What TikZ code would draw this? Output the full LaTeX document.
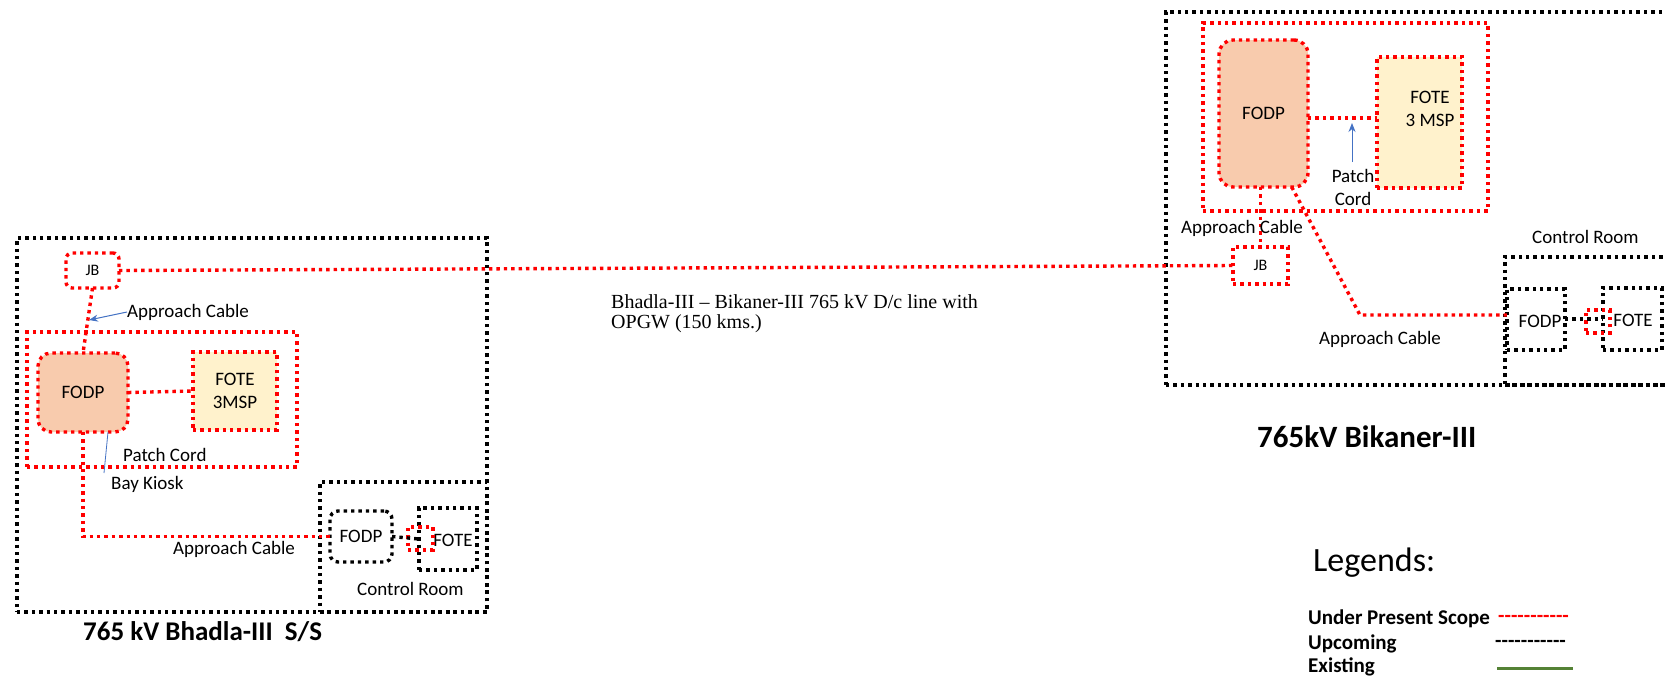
\documentclass[tikz,border=0pt]{standalone}
\usepackage{fontspec}
\setmainfont{Carlito}
\newfontfamily\tnr{Liberation Serif}
\usetikzlibrary{arrows.meta}
\definecolor{peach}{HTML}{F8CBAD}
\definecolor{cream}{HTML}{FFF2CC}
\definecolor{arrowblue}{HTML}{4472C4}
\definecolor{existgreen}{HTML}{548235}
\begin{document}
\begin{tikzpicture}[x=1pt,y=-1pt,
 dotline/.style={line width=3.4pt, dash pattern=on 3.4pt off 4pt},
 redline/.style={dotline, draw=red},
 blkline/.style={dotline, draw=black},
 plainbox/.style={rectangle, inner sep=0pt, outer sep=0pt, align=center, font=\fontsize{19}{23}\selectfont},
 redbox/.style={plainbox, redline},
 blkbox/.style={plainbox, blkline},
 lbl/.style={inner sep=0pt, font=\fontsize{19}{23}\selectfont, text=black, align=center},
 titletext/.style={inner sep=0pt, font=\bfseries\fontsize{27}{31}\selectfont, anchor=west},
 legitem/.style={inner sep=0pt, font=\bfseries\fontsize{21}{25}\selectfont, anchor=west},
 pointer/.style={draw=arrowblue, line width=1pt},
]
\clip (0,0) rectangle (1666,681);
\fill[white] (0,0) rectangle (1666,681);

% ---------------- Bhadla-III ----------------
\node[blkbox, minimum width=470pt, minimum height=374pt] (bhOuter) at (252,425) {};
\node[blkbox, minimum width=167pt, minimum height=130pt] (bhCR) at (403.5,547) {};
\node[redbox, minimum width=270pt, minimum height=135pt] (bhKiosk) at (162,399.5) {};
\node[redbox, rounded corners=6pt, minimum width=53pt, minimum height=35pt, font=\fontsize{16}{19}\selectfont] (bhJB) at (92.5,270.5) {JB};
\node[redbox, rounded corners=13pt, fill=peach, minimum width=90pt, minimum height=79pt] (bhFODP) at (83,392.5) {FODP};
\node[redbox, fill=cream, minimum width=84pt, minimum height=78pt] (bhFOTE) at (235,391) {FOTE\\3MSP};
\node[blkbox, rounded corners=8pt, minimum width=62pt, minimum height=51pt] (bhcFODP) at (361,536.5) {FODP};
\node[blkbox, minimum width=58pt, minimum height=62pt] (bhcFOTE) at (448,539) {};
\node[lbl] (bhcFOTEt) at (453,540) {FOTE};
\node[redbox, minimum width=25pt, minimum height=23pt] (bhPatch) at (420.5,538.5) {};

\draw[redline] (bhJB.south) -- (bhFODP.north);
\draw[redline] (bhFODP.east) -- (bhFOTE.west);
\draw[redline] (bhFODP.south) |- (bhcFODP.west);
\draw[blkline] (bhcFODP.east) -- (bhcFOTE.west);

\node[lbl, anchor=west] (bhAC1) at (127,312) {Approach Cable};
\coordinate (bhAC1tip) at (89,320);
\draw[pointer, -{Stealth[length=9pt,width=7pt]}] (bhAC1.west) -- (bhAC1tip);
\node[lbl, anchor=west] (bhPC) at (123,455) {Patch Cord};
\node[lbl, anchor=west] (bhBK) at (111,484) {Bay Kiosk};
\coordinate (bhBKa) at (104,473);
\coordinate (bhBKb) at (108,432);
\draw[pointer, line width=0.8pt] (bhBKa) -- (bhBKb);
\node[lbl, anchor=west] (bhAC2) at (173,549) {Approach Cable};
\node[lbl, anchor=west] (bhCRl) at (357,589) {Control Room};
\node[titletext] (bhTitle) at (83,632) {765 kV Bhadla-III\ \ S/S};

% ---------------- Bikaner-III ----------------
\node[blkbox, minimum width=524pt, minimum height=373pt] (bkOuter) at (1428,198.5) {};
\node[blkbox, minimum width=185pt, minimum height=128pt] (bkCR) at (1597.5,321) {};
\node[redbox, minimum width=285pt, minimum height=188pt] (bkKiosk) at (1345.5,117) {};
\node[redbox, rounded corners=14pt, fill=peach, minimum width=89pt, minimum height=147pt] (bkFODP) at (1263.5,113.5) {FODP};
\node[redbox, fill=cream, minimum width=85pt, minimum height=131pt] (bkFOTE) at (1419.5,122.5) {};
\node[lbl] (bkFOTEt) at (1430,108.5) {FOTE\\3 MSP};
\node[redbox, minimum width=55pt, minimum height=37pt, font=\fontsize{16}{19}\selectfont] (bkJB) at (1260.5,265.5) {JB};
\node[blkbox, minimum width=58pt, minimum height=61pt] (bkcFODP) at (1536,319.5) {};
\node[lbl] (bkcFODPt) at (1540,321) {FODP};
\node[blkbox, minimum width=59pt, minimum height=62pt] (bkcFOTE) at (1632.5,319) {};
\node[lbl] (bkcFOTEt) at (1633,320) {FOTE};
\node[redbox, minimum width=24pt, minimum height=23pt] (bkPatch) at (1598,321.5) {};

\draw[redline] (bkFODP.east |- 0,118) -- (bkFOTE.west |- 0,118);
\draw[redline] (bkJB.north |- bkFODP.south) -- (bkJB.north);
\coordinate (bkBend) at (1360,315);
\draw[redline] (bkFODP.-69) -- (bkBend) -- (bkBend -| bkcFODP.west);
\draw[blkline] (bkcFODP.east |- 0,319) -- (bkcFOTE.west |- 0,319);

\coordinate (bkPCa) at (1352,162);
\coordinate (bkPCb) at (1352,123);
\draw[pointer, -{Stealth[length=9pt,width=7pt]}] (bkPCa) -- (bkPCb);
\node[lbl] (bkPC) at (1353,187.5) {Patch\\Cord};
\node[lbl, anchor=west] (bkAC1) at (1181,228) {Approach Cable};
\node[lbl, anchor=west] (bkAC2) at (1319,339) {Approach Cable};
\node[lbl, anchor=west] (bkCRl) at (1532,237) {Control Room};
\node[titletext, font=\bfseries\fontsize{31}{35}\selectfont] (bkTitle) at (1257,437) {765kV Bikaner-III};

% ---------------- line between ----------------
\draw[redline] (bhJB.east) -- (bkJB.west);
\node[inner sep=0pt, anchor=north west, align=left, font=\tnr\fontsize{20}{20}\selectfont] (line) at (611,294) {Bhadla-III – Bikaner-III 765 kV D/c line with\\OPGW (150 kms.)};

% ---------------- legend ----------------
\node[inner sep=0pt, anchor=west, font=\fontsize{34}{40}\selectfont] (legT) at (1313,563) {Legends:};
\node[legitem] (leg1) at (1308,619) {Under Present Scope};
\node[legitem] (leg2) at (1308,644) {Upcoming};
\node[legitem] (leg3) at (1308,667) {Existing};
\node[legitem, text=red] (leg1l) at (1498,619) {-{}-{}-{}-{}-{}-{}-{}-{}-{}-{}-};
\node[legitem] (leg2l) at (1495,644) {-{}-{}-{}-{}-{}-{}-{}-{}-{}-{}-};
\coordinate (leg3a) at (1497,668);
\coordinate (leg3b) at (1573,668);
\draw[existgreen, line width=3pt] (leg3a) -- (leg3b);
\end{tikzpicture}
\end{document}
